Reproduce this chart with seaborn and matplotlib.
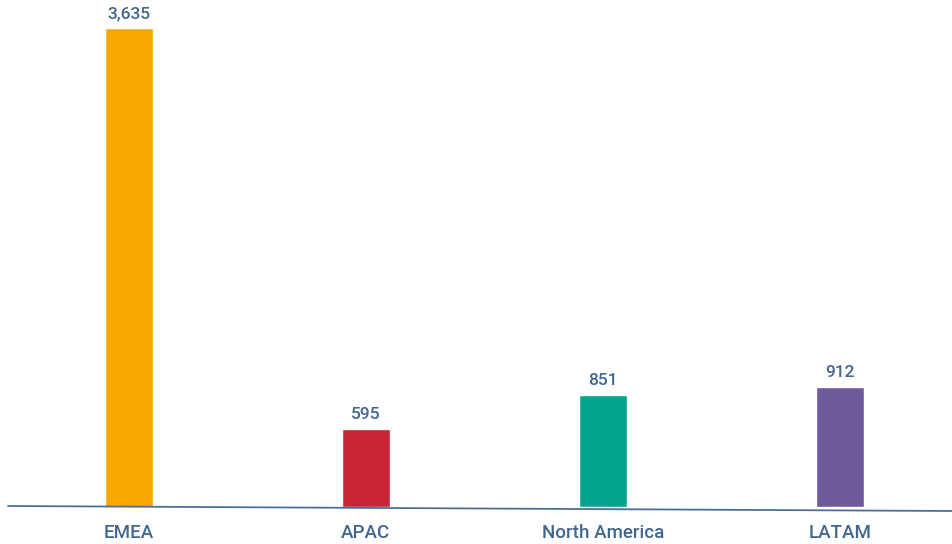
import matplotlib
matplotlib.use("Agg")
import matplotlib.pyplot as plt
import seaborn as sns
import pandas as pd

regions = ["EMEA", "APAC", "North America", "LATAM"]
counts = [3635, 595, 851, 912]
colors = ["#F7A800", "#C92434", "#05A58D", "#6E5A9A"]

text_color = "#41678F"

sns.set_theme(style="white")
plt.rcParams["font.family"] = ["Roboto", "DejaVu Sans"]

df = pd.DataFrame({"region": regions, "count": counts})

fig = plt.figure(figsize=(9.53, 5.44), dpi=100)
ax = fig.add_axes([8 / 953, 1 - 507 / 544, 945 / 953, 507 / 544])

sns.barplot(data=df, x="region", y="count", hue="region", palette=colors,
            width=0.2025, legend=False, ax=ax, saturation=1)

ax.set_xlim(-0.51, 3.477)
ax.set_ylim(0, 3845)
for s in ax.spines.values():
    s.set_visible(False)
ax.set_yticks([])
ax.set_xlabel("")
ax.set_ylabel("")
ax.tick_params(axis="x", length=0, pad=12, labelsize=13.5, labelcolor=text_color)
for lbl in ax.get_xticklabels():
    lbl.set_fontweight("medium")

for i, v in enumerate(counts):
    ax.text(i, v + 50, f"{v:,}", ha="center", va="bottom", fontsize=12.5,
            color=text_color, fontweight="medium")

# baseline, slightly tilted as in the original
fig.add_artist(plt.Line2D([8 / 953, 1.0], [1 - 506 / 544, 1 - 511 / 544],
                          transform=fig.transFigure, color="#4A6F96", lw=1.3))

fig.savefig("out.png", dpi=100)
